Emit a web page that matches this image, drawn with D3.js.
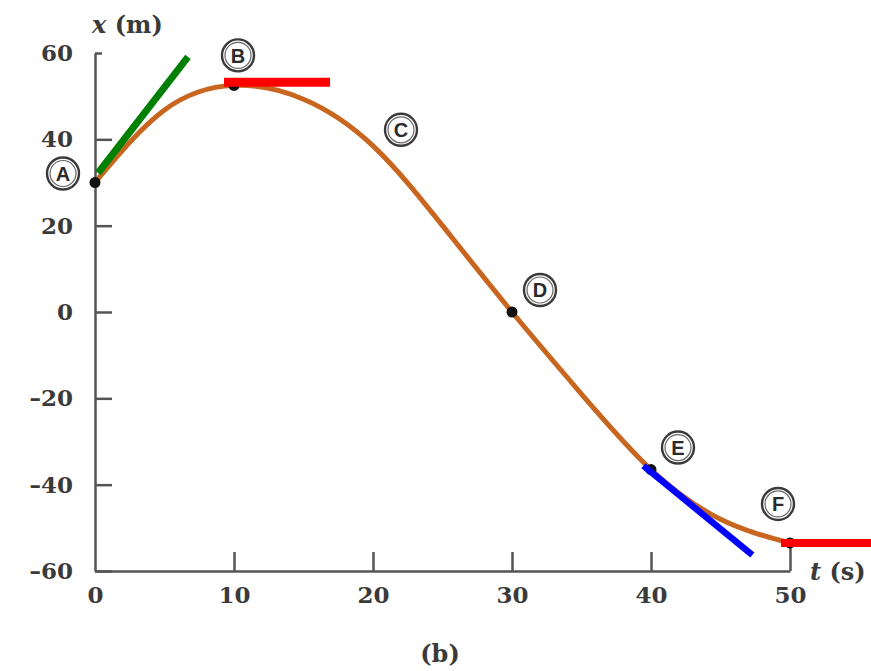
<!DOCTYPE html>
<html>
<head>
<meta charset="utf-8">
<script src="https://cdn.jsdelivr.net/npm/d3@7"></script>
<style>
  html, body { margin: 0; padding: 0; background: #fff; }
  svg { display: block; }
</style>
</head>
<body>
<svg id="chart" width="871" height="671"></svg>
<script>
// ---- data ----
const tValues = [0, 5, 10, 15, 20, 25, 30, 35, 40, 45, 50];
const xValues = [30, 46.8, 52.5, 49.3, 38.5, 20, 0, -19, -36.5, -48, -53.5];

const pointNames = ["A", "B", "C", "D", "E", "F"];
const pointT = [0, 10, 20, 30, 40, 50];
const pointX = [30, 52.5, 38.5, 0, -36.5, -53.5];
const pointHasDot = [true, true, false, true, true, true];

const xTicks = [0, 10, 20, 30, 40, 50];
const xTickLabels = ["0", "10", "20", "30", "40", "50"];
const yTicks = [-60, -40, -20, 0, 20, 40, 60];
const yTickLabels = ["\u201360", "\u201340", "\u201320", "0", "20", "40", "60"];

// tangent segments (t, x) in data units
const greenTangent = [[0.22, 32.2], [6.69, 59.1]];
const redTangentB = [[9.28, 53.2], [16.91, 53.2]];
const blueTangent = [[39.45, -35.6], [47.29, -56.3]];
const redTangentF = [[49.35, -53.5], [55.83, -53.5]];

const xTitle = "x";
const xTitleUnit = " (m)";
const tTitle = "t";
const tTitleUnit = " (s)";
const caption = "(b)";

// ---- drawing ----
const svg = d3.select("#chart");
const serif = "'DejaVu Serif', 'Liberation Serif', serif";
const textColor = "#3a3a3a";

const x = d3.scaleLinear().domain([0, 50]).range([95, 790]);
const y = d3.scaleLinear().domain([-60, 60]).range([571, 53]);

const axisColor = "#555";

// y axis
const yAxis = d3.axisLeft(y)
  .tickValues(yTicks)
  .tickFormat((d, i) => yTickLabels[i])
  .tickSizeInner(-17)
  .tickSizeOuter(0)
  .tickPadding(22);
const gy = svg.append("g").attr("transform", `translate(${x(0)},0)`).call(yAxis);
gy.select(".domain").attr("stroke", axisColor).attr("stroke-width", 2.5);
gy.selectAll(".tick line").attr("stroke", axisColor).attr("stroke-width", 2.5)
  .filter(d => d === 60).attr("x2", 7);
gy.selectAll(".tick text")
  .attr("font-family", serif).attr("font-weight", "bold")
  .attr("font-size", 23).attr("fill", textColor);

// x axis
const xAxis = d3.axisBottom(x)
  .tickValues(xTicks)
  .tickFormat((d, i) => xTickLabels[i])
  .tickSizeInner(-19)
  .tickSizeOuter(0)
  .tickPadding(16);
const gx = svg.append("g").attr("transform", `translate(0,${y(-60)})`).call(xAxis);
gx.select(".domain").attr("stroke", axisColor).attr("stroke-width", 2.5);
gx.selectAll(".tick line").attr("stroke", axisColor).attr("stroke-width", 2.5)
  .filter(d => d === 0).remove();
gx.selectAll(".tick line").filter(d => d === 50)
  .attr("y2", y(pointX[5]) - y(-60));
gx.selectAll(".tick text")
  .attr("font-family", serif).attr("font-weight", "bold")
  .attr("font-size", 23).attr("fill", textColor);

// axis titles
const xt = svg.append("text").attr("x", 92).attr("y", 33)
  .attr("font-family", serif).attr("font-weight", "bold")
  .attr("font-size", 24).attr("fill", textColor);
xt.append("tspan").attr("font-style", "italic").text(xTitle);
xt.append("tspan").text(xTitleUnit);

const tt = svg.append("text").attr("x", 810).attr("y", 580)
  .attr("font-family", serif).attr("font-weight", "bold")
  .attr("font-size", 24).attr("fill", textColor);
tt.append("tspan").attr("font-style", "italic").text(tTitle);
tt.append("tspan").text(tTitleUnit);

svg.append("text").attr("x", 440).attr("y", 662)
  .attr("text-anchor", "middle")
  .attr("font-family", serif).attr("font-weight", "bold")
  .attr("font-size", 24).attr("fill", textColor)
  .text(caption);

// curve
const curveData = tValues.map((t, i) => [t, xValues[i]]);
const line = d3.line().x(d => x(d[0])).y(d => y(d[1])).curve(d3.curveNatural);
svg.append("path").datum(curveData)
  .attr("d", line)
  .attr("fill", "none")
  .attr("stroke", "#c8661f")
  .attr("stroke-width", 5)
  .attr("stroke-linecap", "round");

// dots
const pts = pointNames.map((n, i) => ({ name: n, t: pointT[i], v: pointX[i], dot: pointHasDot[i] }));
svg.selectAll("circle.dot").data(pts.filter(p => p.dot)).join("circle")
  .attr("class", "dot")
  .attr("cx", d => x(d.t)).attr("cy", d => y(d.v))
  .attr("r", 5.5).attr("fill", "#111");

// circled labels (pixel offsets from each point)
const labelOffsets = { A: [-32, -9], B: [4, -30], C: [28, -16], D: [28, -22], E: [27, -22], F: [-12, -39] };
const lg = svg.selectAll("g.lbl").data(pts).join("g")
  .attr("class", "lbl")
  .attr("transform", d => `translate(${x(d.t) + labelOffsets[d.name][0]},${y(d.v) + labelOffsets[d.name][1]})`);
lg.append("circle").attr("r", 16).attr("fill", "#fff").attr("stroke", "#3a3a3a").attr("stroke-width", 2.4);
lg.append("circle").attr("r", 13).attr("fill", "none").attr("stroke", "#666").attr("stroke-width", 1.2);
lg.append("text")
  .attr("text-anchor", "middle").attr("dy", "0.36em")
  .attr("font-family", "'Liberation Sans', 'DejaVu Sans', sans-serif")
  .attr("font-weight", "bold").attr("font-size", 20).attr("fill", "#2a2a2a")
  .text(d => d.name);

// tangent lines
const seg = d3.line().x(d => x(d[0])).y(d => y(d[1]));
[[greenTangent, "#008000", 7], [redTangentB, "#ff0000", 9], [blueTangent, "#0000ff", 6.5], [redTangentF, "#ff0000", 8]]
  .forEach(([data, color, w]) => {
    svg.append("path").datum(data).attr("d", seg)
      .attr("fill", "none").attr("stroke", color).attr("stroke-width", w);
  });
</script>
</body>
</html>
